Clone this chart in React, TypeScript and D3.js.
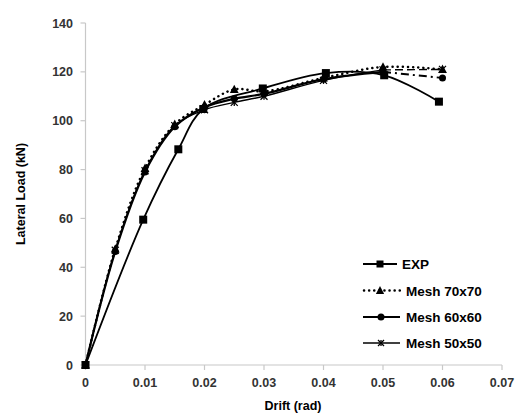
import React from "react";
import * as d3 from "d3";

const xTicks = [0, 0.01, 0.02, 0.03, 0.04, 0.05, 0.06, 0.07];
const xTickLabels = ["0", "0.01", "0.02", "0.03", "0.04", "0.05", "0.06", "0.07"];
const yTicks = [0, 20, 40, 60, 80, 100, 120, 140];

const expDrift = [0, 0.0097, 0.0156, 0.0198, 0.0298, 0.0404, 0.0502, 0.0594];
const expLoad = [0, 59.5, 88.3, 104.8, 113.2, 119.5, 118.6, 107.8];

const m70Drift = [0, 0.005, 0.01, 0.015, 0.02, 0.025, 0.03, 0.04, 0.05, 0.06];
const m70Load = [0, 47.5, 80.5, 98.5, 106.5, 112.8, 112, 117.5, 122, 121];

const m60Drift = [0, 0.005, 0.01, 0.015, 0.02, 0.025, 0.03, 0.04, 0.05, 0.06];
const m60Load = [0, 46.5, 79, 97.5, 105.5, 109, 111, 117, 120, 117.5];

const m50Drift = [0, 0.005, 0.01, 0.015, 0.02, 0.025, 0.03, 0.04, 0.05, 0.06];
const m50Load = [0, 47, 79.5, 98, 104.5, 107.5, 110, 116.5, 120.8, 121];

const legendLabels = ["EXP", "Mesh 70x70", "Mesh 60x60", "Mesh 50x50"];

const FONT = "'Liberation Sans', Arial, sans-serif";

export default function App() {
  const W = 516, H = 414;
  const x = d3.scaleLinear().domain([0, 0.07]).range([85.5, 502]);
  const y = d3.scaleLinear().domain([0, 140]).range([365, 23]);

  const zip = (xs: number[], ys: number[]) => xs.map((v, i) => [v, ys[i]] as [number, number]);
  const line = d3
    .line<[number, number]>()
    .x((d) => x(d[0]))
    .y((d) => y(d[1]))
    .curve(d3.curveCatmullRom.alpha(0.5));

  const exp = zip(expDrift, expLoad);
  const m70 = zip(m70Drift, m70Load);
  const m60 = zip(m60Drift, m60Load);
  const m50 = zip(m50Drift, m50Load);

  const square = (cx: number, cy: number, s: number, key: any) => (
    <rect key={key} x={cx - s / 2} y={cy - s / 2} width={s} height={s} fill="#000" />
  );
  const tri = (cx: number, cy: number, s: number, key: any) => (
    <path key={key} d={`M${cx},${cy - s * 0.6}L${cx + s * 0.55},${cy + s * 0.45}L${cx - s * 0.55},${cy + s * 0.45}Z`} fill="#000" />
  );
  const circ = (cx: number, cy: number, r: number, key: any) => (
    <circle key={key} cx={cx} cy={cy} r={r} fill="#000" />
  );
  const star = (cx: number, cy: number, s: number, key: any) => (
    <g key={key} stroke="#000" strokeWidth={1.3}>
      <line x1={cx - s} y1={cy - s} x2={cx + s} y2={cy + s} />
      <line x1={cx - s} y1={cy + s} x2={cx + s} y2={cy - s} />
      <line x1={cx} y1={cy - s} x2={cx} y2={cy + s} />
    </g>
  );

  const m60Main = m60.slice(0, m60.length - 1);
  const m50Main = m50.slice(0, m50.length - 1);

  const legY = [264, 290.5, 317, 343];

  return (
    <svg width={W} height={H} style={{ position: "absolute", left: 0, top: 0, background: "#fff" }}>
      <rect width={W} height={H} fill="#fff" />
      <line x1={x(0)} y1={y(0)} x2={x(0)} y2={y(140)} stroke="#c8c8c8" strokeWidth={1.2} />
      <line x1={x(0)} y1={y(0)} x2={x(0.07)} y2={y(0)} stroke="#c8c8c8" strokeWidth={1.2} />
      {yTicks.map((t) => (
        <g key={"y" + t}>
          <line x1={x(0) - 5} x2={x(0)} y1={y(t)} y2={y(t)} stroke="#c8c8c8" strokeWidth={1.2} />
          <text x={73} y={y(t) + 4.5} textAnchor="end" fontFamily={FONT} fontWeight="bold" fontSize={12.5} fill="#333">
            {t}
          </text>
        </g>
      ))}
      {xTicks.map((t, i) => (
        <g key={"x" + t}>
          <line x1={x(t)} x2={x(t)} y1={y(0)} y2={y(0) + 5} stroke="#c8c8c8" strokeWidth={1.2} />
          <text x={x(t)} y={386.5} textAnchor="middle" fontFamily={FONT} fontWeight="bold" fontSize={12.5} fill="#333">
            {xTickLabels[i]}
          </text>
        </g>
      ))}
      <text x={293} y={410} textAnchor="middle" fontFamily={FONT} fontWeight="bold" fontSize={12.5} fill="#000">
        Drift (rad)
      </text>
      <text
        transform={`translate(25,194) rotate(-90)`}
        textAnchor="middle"
        fontFamily={FONT}
        fontWeight="bold"
        fontSize={12.5}
        fill="#000"
      >
        Lateral Load (kN)
      </text>

      <path d={line(m50Main) || ""} fill="none" stroke="#000" strokeWidth={1.4} />
      <path d={line(m50.slice(-2)) || ""} fill="none" stroke="#000" strokeWidth={1.4} strokeDasharray="8,4" />
      <path d={line(m60Main) || ""} fill="none" stroke="#000" strokeWidth={2.2} />
      <path d={line(m60.slice(-2)) || ""} fill="none" stroke="#000" strokeWidth={2} strokeDasharray="8,4,2,4" />
      <path d={line(m70) || ""} fill="none" stroke="#000" strokeWidth={2.5} strokeDasharray="0.1,5" strokeLinecap="round" />
      <path d={line(exp) || ""} fill="none" stroke="#000" strokeWidth={1.8} />

      {m50.map((d, i) => star(x(d[0]), y(d[1]), 3.5, "s" + i))}
      {m60.map((d, i) => circ(x(d[0]), y(d[1]), 3.5, "c" + i))}
      {m70.map((d, i) => tri(x(d[0]), y(d[1]), 8, "t" + i))}
      {exp.map((d, i) => square(x(d[0]), y(d[1]), 8, "q" + i))}

      <g>
        <line x1={363} x2={397} y1={legY[0]} y2={legY[0]} stroke="#000" strokeWidth={1.8} />
        {square(380, legY[0], 7, "lq")}
        <text x={402} y={legY[0] + 5} fontFamily={FONT} fontWeight="bold" fontSize={13.5} fill="#000">
          {legendLabels[0]}
        </text>

        <line x1={364} x2={400} y1={legY[1]} y2={legY[1]} stroke="#000" strokeWidth={2.5} strokeDasharray="0.1,5" strokeLinecap="round" />
        {tri(380, legY[1], 7.5, "lt")}
        <text x={406} y={legY[1] + 5} fontFamily={FONT} fontWeight="bold" fontSize={13.5} fill="#000">
          {legendLabels[1]}
        </text>

        <line x1={363} x2={400} y1={legY[2]} y2={legY[2]} stroke="#000" strokeWidth={2.2} />
        {circ(381, legY[2], 3.5, "lc")}
        <text x={406} y={legY[2] + 5} fontFamily={FONT} fontWeight="bold" fontSize={13.5} fill="#000">
          {legendLabels[2]}
        </text>

        <line x1={363} x2={400} y1={legY[3]} y2={legY[3]} stroke="#000" strokeWidth={1.4} />
        {star(381, legY[3], 3, "ls")}
        <text x={406} y={legY[3] + 5} fontFamily={FONT} fontWeight="bold" fontSize={13.5} fill="#000">
          {legendLabels[3]}
        </text>
      </g>
    </svg>
  );
}
